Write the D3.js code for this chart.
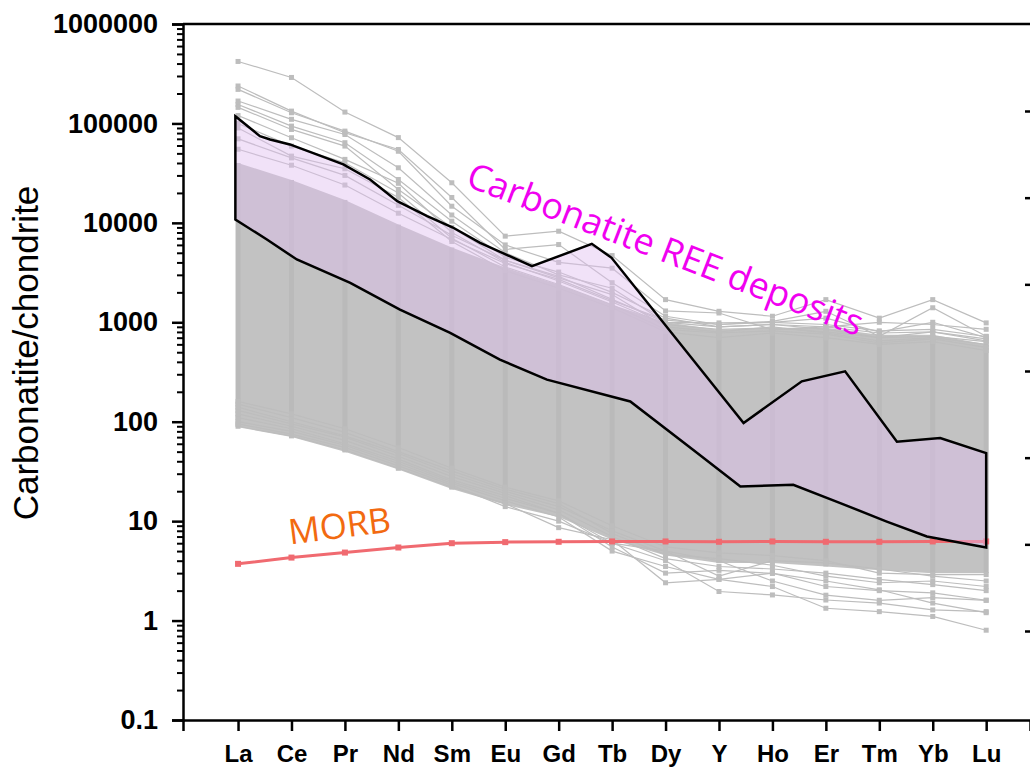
<!DOCTYPE html>
<html>
<head>
<meta charset="utf-8">
<script src="https://cdn.jsdelivr.net/npm/d3@7"></script>
<style>
body { margin: 0; background: #fff; }
svg text { font-family: Arial, "Liberation Sans", sans-serif; }
</style>
</head>
<body>
<div id="dataviz"></div>
<script>
"use strict";

// REE order on the x axis
var elements = ["La", "Ce", "Pr", "Nd", "Sm", "Eu", "Gd", "Tb", "Dy", "Y", "Ho", "Er", "Tm", "Yb", "Lu"];

// dense core of the carbonatite sample lines (chondrite normalised)
var cloudHigh = [40000, 27000, 17000, 9600, 5650, 3550, 2390, 1500, 1000, 840, 880, 880, 750, 750, 600];
var cloudLow  = [88, 70, 50, 33, 21, 14.6, 11, 6.5, 4.5, 3.8, 3.8, 3.5, 3.2, 3.0, 3.0];

// individual samples above the core
var highSamples = [
    [420000, 290000, 130000, 72000, 25300, 7350, 8240, 4690, 1690, 1290, 1150, 1690, 1100, 1690, 986],
    [238000, 133000, 80500, 54700, 18000, 5400, 6050, 2500, 1150, 950, 1020, 1290, 723, 1400, 723],
    [220000, 128000, 83700, 52500, 14700, 6000, 4000, 3500, 1300, 1240, 843, 900, 1000, 950, 850],
    [168000, 110000, 77400, 35800, 12000, 5000, 3000, 2200, 1000, 986, 1000, 1100, 800, 1000, 700],
    [155000, 94000, 64000, 27300, 10400, 4500, 3200, 2000, 1100, 900, 950, 850, 700, 800, 650],
    [145000, 87000, 59200, 21700, 9000, 4200, 2800, 1900, 900, 800, 900, 780, 650, 700, 600],
    [120000, 71800, 43500, 25000, 8000, 4000, 2600, 1600, 950, 850, 880, 800, 700, 720, 640],
    [100000, 59200, 40200, 20000, 7000, 3600, 2400, 1500, 850, 780, 820, 760, 620, 680, 560],
    [90000, 46900, 35000, 18000, 6500, 3300, 2200, 1400, 800, 700, 780, 700, 600, 640, 520],
    [70000, 45000, 30000, 15000, 7500, 4200, 2900, 1700, 1000, 900, 950, 900, 780, 800, 680],
    [55000, 38000, 24000, 12500, 6800, 3900, 2700, 1650, 1050, 950, 1000, 950, 820, 850, 720]
];

// individual samples below the core
var lowSamples = [
    [90, 72, 52, 34, 22, 15, 8.6, 6.5, 2.4, 2.6, 3.0, 2.2, 2.0, 1.9, 1.6],
    [95, 75, 55, 36, 23, 14, 10, 6, 4, 1.96, 1.81, 1.61, 1.5, 1.28, 1.23],
    [100, 80, 58, 38, 24, 16, 11, 5, 3.5, 2.6, 2.2, 1.33, 1.23, 1.1, 0.8],
    [110, 85, 60, 40, 25, 17, 12, 5.5, 3, 3.2, 2.98, 2.5, 2.04, 1.5, 1.2],
    [120, 90, 65, 42, 26, 18, 12, 6, 5, 4, 2.5, 1.8, 1.6, 1.7, 1.6],
    [130, 95, 70, 45, 28, 19, 13, 7, 4.2, 3.5, 3.3, 3, 2.6, 2.3, 2.0],
    [140, 100, 72, 48, 30, 20, 14, 8, 5, 2.8, 4, 3.8, 3.3, 2.8, 2.5],
    [150, 110, 78, 50, 32, 21, 15, 7.5, 4.6, 4.2, 3.6, 2.8, 2.4, 2.5, 2.2],
    [160, 120, 85, 55, 34, 22, 16, 9, 5.5, 4.8, 4.5, 4.0, 3.0, 2.9, 2.9]
];

// MORB reference pattern
var morb = [3.72, 4.3, 4.83, 5.43, 6.0, 6.15, 6.2, 6.25, 6.25, 6.2, 6.25, 6.2, 6.2, 6.25, 6.25];

// envelope of the carbonatite REE deposits: [position on x axis, value]
var depositUpper = [[-0.05, 118000], [0.41, 74500], [0.60, 69000], [0.97, 61500], [1.97, 38700], [2.47, 27300],
    [2.98, 16500], [3.54, 11700], [4.02, 8980], [4.53, 6300], [5.50, 3660], [6.62, 6150], [6.99, 4450],
    [9.46, 97], [10.55, 255], [11.36, 321], [12.33, 63], [13.14, 68.5], [14.0, 48.4]];
var depositLower = [[-0.05, 10800], [0.54, 6800], [1.10, 4280], [2.10, 2490], [3.03, 1340], [3.97, 782],
    [4.90, 421], [5.78, 265], [7.34, 160], [8.52, 52], [9.40, 22.3], [10.39, 23.2], [11.27, 15.2],
    [12.14, 9.9], [12.89, 7.0], [14.0, 5.43]];

var yMajor = [0.1, 1, 10, 100, 1000, 10000, 100000, 1000000];

// -----------------------------------------------------------------------
var width = 1030, height = 772;

var svg = d3.select("#dataviz").append("svg")
    .attr("width", width)
    .attr("height", height);

var xScale = d3.scaleLinear().domain([-1.03, 14.82]).range([183, 1030]);
var yScale = d3.scaleLog().domain([0.1, 1000000]).range([720, 24]);

var line = d3.line()
    .x(function (d, i) { return xScale(i); })
    .y(function (d) { return yScale(d); });

var gray = "#c2c2c2";

// dense core
var cloud = d3.range(elements.length).map(function (i) { return [i, cloudLow[i], cloudHigh[i]]; });
svg.append("path")
    .datum(cloud)
    .attr("d", d3.area()
        .x(function (d) { return xScale(d[0]); })
        .y0(function (d) { return yScale(d[1]); })
        .y1(function (d) { return yScale(d[2]); }))
    .attr("fill", gray);

// marker columns inside the core
svg.append("g").selectAll("rect")
    .data(cloud)
    .enter().append("rect")
    .attr("x", function (d) { return xScale(d[0]) - 2.5; })
    .attr("y", function (d) { return yScale(d[2]); })
    .attr("width", 5)
    .attr("height", function (d) { return yScale(d[1]) - yScale(d[2]); })
    .attr("fill", "#bababa");

// individual samples
var samples = highSamples.concat(lowSamples);
var sampleG = svg.append("g");
samples.forEach(function (s) {
    sampleG.append("path")
        .datum(s)
        .attr("d", line)
        .attr("fill", "none")
        .attr("stroke", "#bdbdbd")
        .attr("stroke-width", 1.2);
    sampleG.selectAll(null)
        .data(s)
        .enter().append("rect")
        .attr("x", function (d, i) { return xScale(i) - 2.5; })
        .attr("y", function (d) { return yScale(d) - 2.5; })
        .attr("width", 5)
        .attr("height", 5)
        .attr("fill", "#bdbdbd");
});

// MORB
svg.append("path")
    .datum(morb)
    .attr("d", line)
    .attr("fill", "none")
    .attr("stroke", "#f06a70")
    .attr("stroke-width", 3);
svg.append("g").selectAll("rect")
    .data(morb)
    .enter().append("rect")
    .attr("x", function (d, i) { return xScale(i) - 3; })
    .attr("y", function (d) { return yScale(d) - 3; })
    .attr("width", 6)
    .attr("height", 6)
    .attr("fill", "#f06a70");

// deposit envelope
var envelope = depositUpper.concat(depositLower.slice().reverse());
var envLine = d3.line()
    .x(function (d) { return xScale(d[0]); })
    .y(function (d) { return yScale(d[1]); });
svg.append("path")
    .attr("d", envLine(envelope) + "Z")
    .attr("fill", "rgba(225,190,240,0.45)")
    .attr("stroke", "#000")
    .attr("stroke-width", 2.5)
    .attr("stroke-linejoin", "miter");

// -----------------------------------------------------------------------
// axes
var axisStyle = function (g) {
    g.select(".domain").attr("stroke-width", 2.5);
    g.selectAll(".tick line").attr("stroke-width", 2.5);
};

var yAxis = d3.axisLeft(yScale)
    .tickValues(yMajor)
    .tickSize(11)
    .tickPadding(14)
    .tickFormat(function (d) { return d < 1 ? "0.1" : d3.format("d")(d); });

var gy = svg.append("g")
    .attr("transform", "translate(183,0)")
    .call(yAxis)
    .call(axisStyle);
gy.selectAll("text")
    .attr("font-size", 27)
    .attr("font-weight", "bold")
    .attr("fill", "#000")
    .style("font-family", "Arial, 'Liberation Sans', sans-serif");

var yMinor = [];
yMajor.slice(0, -1).forEach(function (m) {
    for (var k = 2; k < 10; k++) yMinor.push(m * k);
});
svg.append("g")
    .attr("transform", "translate(183,0)")
    .call(d3.axisLeft(yScale).tickValues(yMinor).tickSize(6).tickFormat(""))
    .call(function (g) { g.select(".domain").remove(); })
    .selectAll(".tick line").attr("stroke-width", 2);

var xAxis = d3.axisBottom(xScale)
    .tickValues(d3.range(elements.length))
    .tickSize(11)
    .tickPadding(14)
    .tickFormat(function (d) { return elements[d]; });

var gx = svg.append("g")
    .attr("transform", "translate(0,720)")
    .call(xAxis)
    .call(axisStyle);
gx.selectAll("text")
    .attr("font-size", 24)
    .attr("font-weight", "bold")
    .attr("fill", "#000")
    .style("font-family", "Arial, 'Liberation Sans', sans-serif");

// top frame
svg.append("line")
    .attr("x1", 183).attr("x2", 1030)
    .attr("y1", yScale(1000000)).attr("y2", yScale(1000000))
    .attr("stroke", "#000")
    .attr("stroke-width", 2.5);

// ticks of the neighbouring panel's axis, cut off at the right edge
var sideScale = d3.scaleLinear().domain([0, 6]).range([111, 631]);
svg.append("g")
    .attr("transform", "translate(1031,0)")
    .call(d3.axisLeft(sideScale).tickValues(d3.range(7)).tickSize(6).tickFormat(""))
    .call(function (g) { g.select(".domain").remove(); })
    .selectAll(".tick line").attr("stroke-width", 2.5);

// labels
svg.append("text")
    .attr("transform", "translate(38,353)rotate(-90)")
    .attr("text-anchor", "middle")
    .attr("font-size", 35)
    .attr("fill", "#000")
    .text("Carbonatite/chondrite");

svg.append("text")
    .attr("transform", "translate(661,261)rotate(21)")
    .attr("text-anchor", "middle")
    .attr("font-size", 36)
    .style("font-family", "'Open Sans', sans-serif")
    .attr("fill", "#f000f0")
    .text("Carbonatite REE deposits");

svg.append("text")
    .attr("transform", "translate(341,538)rotate(-7.2)")
    .attr("text-anchor", "middle")
    .attr("font-size", 35)
    .style("font-family", "'Open Sans', sans-serif")
    .attr("fill", "#f26a10")
    .text("MORB");
</script>
</body>
</html>
